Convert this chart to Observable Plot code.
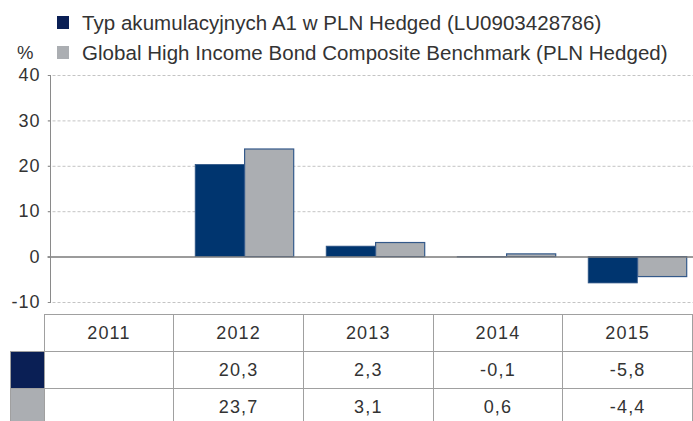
<!DOCTYPE html>
<html>
<head>
<meta charset="utf-8">
<script src="https://cdn.jsdelivr.net/npm/d3@7"></script>
<script src="https://cdn.jsdelivr.net/npm/@observablehq/plot@0.6"></script>
<style>
  html, body { margin: 0; padding: 0; background: #fff; }
  #wrap { position: relative; width: 693px; height: 421px; overflow: hidden; font-family: "Liberation Sans", Arial, sans-serif; color: #333; }
  #legend { position: absolute; left: 57px; top: 8px; font-size: 20.5px; line-height: 29.5px; letter-spacing: 0.04px; }
  .li { display: flex; align-items: center; white-space: nowrap; }
  .sw { width: 12px; height: 13px; margin-right: 13px; display: inline-block; }
  #pct { position: absolute; left: 17px; top: 42px; font-size: 18.5px; }
  #chart { position: absolute; left: 0; top: 0; width: 704px; }
  #chart svg { max-width: none !important; }
  #tbl { position: absolute; left: 10px; top: 314px; border-collapse: collapse; table-layout: fixed; font-size: 18px; letter-spacing: 1.2px; }
  #tbl td { border: 1.5px solid #a0a0a0; text-align: center; padding: 0; color: #333; }
  #tbl td.blank { border: none; }
  #tbl td.sq { border: 1.5px solid #a0a0a0; }
</style>
</head>
<body>
<div id="wrap">
  <div id="chart"></div>
  <div id="legend"></div>
  <div id="pct">%</div>
  <table id="tbl"></table>
</div>
<script>
const years = ["2011", "2012", "2013", "2014", "2015"];
const fundValues = [null, 20.3, 2.3, -0.1, -5.8];
const benchValues = [null, 23.7, 3.1, 0.6, -4.4];
const seriesNames = ["Typ akumulacyjnych A1 w PLN Hedged (LU0903428786)", "Global High Income Bond Composite Benchmark (PLN Hedged)"];
const seriesColors = ["#00356f", "#abaeb2"];
const swatchColors = ["#0a1f55", "#abaeb2"];
const yTicks = [-10, 0, 10, 20, 30, 40];
const gridTicks = [-10, 10, 20, 30, 40];

const rows = years.map((y, i) => ({year: y, fund: fundValues[i], bench: benchValues[i]}));

// layout
const W = 704, H = 310, ML = 47.5, MR = 0, MT = 75, MB = 8;
const step = (W - ML - MR) / years.length;
const outerPad = 16.2, barW = 49.4;

const plot = Plot.plot({
  width: W, height: H,
  marginTop: MT, marginBottom: MB, marginLeft: ML, marginRight: MR,
  style: {fontFamily: "'Liberation Sans', Arial, sans-serif", fontSize: "18px", color: "#333", background: "transparent", maxWidth: "none", overflow: "visible", letterSpacing: "1px"},
  x: {domain: years, padding: 0, axis: null},
  y: {domain: [-10, 40], axis: null},
  marks: [
    Plot.ruleY(gridTicks, {stroke: "#c4c4c4", strokeDasharray: "3,2", strokeWidth: 1}),
    Plot.barY(rows.filter(d => d.fund != null), {x: "year", y: "fund", fill: seriesColors[0], stroke: "#2f5585", strokeWidth: 0.8, insetLeft: outerPad, insetRight: step - outerPad - barW}),
    Plot.barY(rows.filter(d => d.bench != null), {x: "year", y: "bench", fill: seriesColors[1], stroke: "#34598a", strokeWidth: 1.2, insetLeft: outerPad + barW, insetRight: step - outerPad - 2 * barW}),
    Plot.ruleY([0], {stroke: "#7a7a7a", strokeWidth: 1.5}),
    Plot.axisY({ticks: yTicks, tickFormat: d => String(d), tickSize: 2, tickPadding: 8, dx: 2.5, stroke: "#888", fill: "#333", fontSize: 18}),
    Plot.frame({anchor: "left", dx: 2.5, stroke: "#8a8a8a"})
  ]
});
plot.style.maxWidth = "none";
document.getElementById("chart").appendChild(plot);

// legend
const legend = document.getElementById("legend");
seriesNames.forEach((name, i) => {
  const div = document.createElement("div");
  div.className = "li";
  div.innerHTML = `<span class="sw" style="background:${swatchColors[i]}"></span><span>${name}</span>`;
  legend.appendChild(div);
});

// table
const fmt = v => v == null ? "" : v.toFixed(1).replace(".", ",");
const colW = 130.6;
const tbl = document.getElementById("tbl");
let html = `<colgroup><col style="width:34px">${years.map(() => `<col style="width:${colW}px">`).join("")}</colgroup>`;
html += `<tr style="height:37px"><td class="blank"></td>${years.map(y => `<td>${y}</td>`).join("")}</tr>`;
[fundValues, benchValues].forEach((vals, i) => {
  html += `<tr style="height:37px"><td class="sq" style="background:${swatchColors[i]}"></td>${vals.map(v => `<td>${fmt(v)}</td>`).join("")}</tr>`;
});
tbl.innerHTML = html;
</script>
</body>
</html>
